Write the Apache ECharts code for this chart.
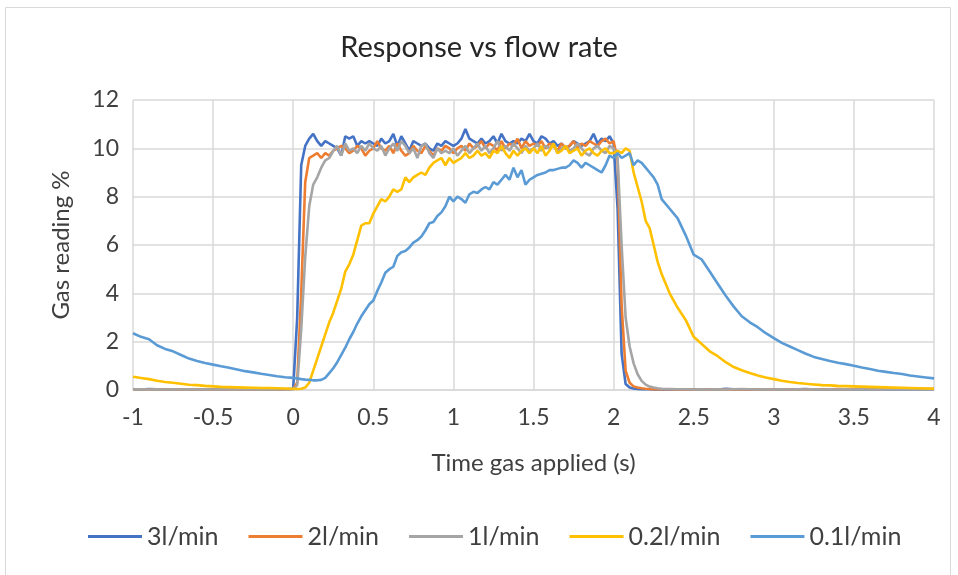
<!DOCTYPE html>
<html>
<head>
<meta charset="utf-8">
<script src="https://cdn.jsdelivr.net/npm/echarts@6/dist/echarts.min.js"></script>
<style>
  html, body { margin: 0; padding: 0; background: #ffffff; }
  #chart { width: 958px; height: 575px; }
</style>
</head>
<body>
<div id="chart"></div>
<script>
// Time (s) — denser sampling during the transitions
var timeValues = [
  -1, -0.95, -0.9, -0.85, -0.8, -0.75, -0.7,
  -0.65, -0.6, -0.55, -0.5, -0.45, -0.4, -0.35,
  -0.3, -0.25, -0.2, -0.15, -0.1, -0.05, 0,
  0.025, 0.05, 0.075, 0.1, 0.125, 0.15, 0.175, 0.2,
  0.225, 0.25, 0.275, 0.3, 0.325, 0.35, 0.375, 0.4,
  0.425, 0.45, 0.475, 0.5, 0.525, 0.55, 0.575, 0.6,
  0.625, 0.65, 0.675, 0.7, 0.725, 0.75, 0.775, 0.8,
  0.825, 0.85, 0.875, 0.9, 0.925, 0.95, 0.975, 1.0,
  1.025, 1.05, 1.075, 1.1, 1.125, 1.15, 1.175, 1.2,
  1.225, 1.25, 1.275, 1.3, 1.325, 1.35, 1.375, 1.4,
  1.425, 1.45, 1.475, 1.5, 1.525, 1.55, 1.575, 1.6,
  1.625, 1.65, 1.675, 1.7, 1.725, 1.75, 1.775, 1.8,
  1.825, 1.85, 1.875, 1.9, 1.925, 1.95, 1.975, 2.0,
  2.025, 2.05, 2.075, 2.1, 2.125, 2.15, 2.175, 2.2,
  2.225, 2.25, 2.275, 2.3,
  2.35, 2.4, 2.45, 2.5, 2.55, 2.6, 2.65, 2.7, 2.75, 2.8,
  2.85, 2.9, 2.95, 3.0, 3.05, 3.1, 3.15, 3.2, 3.25, 3.3,
  3.35, 3.4, 3.45, 3.5, 3.55, 3.6, 3.65, 3.7, 3.75, 3.8,
  3.85, 3.9, 3.95, 4.0
];

var seriesNames = ["3l/min", "2l/min", "1l/min", "0.2l/min", "0.1l/min"];

var flow3 = [
  0.03, 0.02, 0.04, 0.03, 0.02, 0.03, 0.02,
  0.03, 0.02, 0.03, 0.02, 0.03, 0.02, 0.03,
  0.02, 0.03, 0.02, 0.03, 0.02, 0.03, 0.05,
  3.0, 9.3, 10.1, 10.4, 10.6, 10.3, 10.1, 10.3,
  10.2, 10.1, 10.0, 9.7, 10.5, 10.4, 10.5, 10.1,
  10.3, 10.2, 10.3, 10.2, 10.1, 10.4, 10.2, 10.3,
  10.6, 10.1, 10.5, 10.2, 9.9, 10.3, 10.2, 10.1,
  10.2, 10.0, 9.9, 10.2, 10.1, 10.3, 10.2, 10.1,
  10.2, 10.4, 10.8, 10.4, 10.3, 10.2, 10.4, 10.2,
  10.3, 10.5, 10.2, 10.6, 10.3, 10.2, 10.3, 10.2,
  10.4, 10.3, 10.6, 10.3, 10.2, 10.5, 10.4, 10.2,
  10.3, 10.1, 10.2, 10.0, 10.1, 10.3, 10.2, 10.1,
  10.2, 10.3, 10.6, 10.2, 10.4, 10.3, 10.5, 10.2,
  7.5, 1.5, 0.25, 0.1, 0.06, 0.04, 0.03, 0.03,
  0.03, 0.02, 0.03, 0.02,
  0.02, 0.03, 0.02, 0.03, 0.02, 0.03, 0.02, 0.05, 0.03, 0.02,
  0.03, 0.02, 0.03, 0.02, 0.03, 0.02, 0.03, 0.04, 0.02, 0.03,
  0.02, 0.03, 0.02, 0.03, 0.02, 0.03, 0.02, 0.03, 0.02, 0.03,
  0.02, 0.03, 0.02, 0.03
];

var flow2 = [
  0.02, 0.03, 0.02, 0.03, 0.02, 0.03, 0.02,
  0.03, 0.02, 0.03, 0.02, 0.03, 0.02, 0.03,
  0.02, 0.03, 0.02, 0.03, 0.02, 0.03, 0.04,
  0.3, 4.0, 8.6, 9.6, 9.7, 9.8, 9.6, 9.8,
  9.7, 9.9, 10.0, 10.1, 10.0, 9.8, 9.9, 10.1,
  10.0, 9.7, 9.9, 10.0, 10.3, 10.0, 9.9, 10.1,
  9.8, 10.2, 9.9, 9.7, 9.8, 10.1, 9.9, 9.8,
  10.1, 9.9, 9.7, 10.0, 9.9, 10.1, 10.0, 9.8,
  10.0, 10.1, 9.9, 10.2, 10.0, 10.1, 10.3, 10.0,
  10.2, 10.1, 9.9, 10.3, 10.0, 10.2, 10.1, 10.4,
  10.0, 10.3, 10.1, 10.2, 10.1, 10.3, 10.0, 10.2,
  10.1, 9.9, 10.2, 10.0, 10.1, 10.3, 10.0, 10.2,
  10.1, 10.3, 10.2, 10.1, 10.3, 10.4, 10.2, 10.3,
  9.5, 3.5, 0.8, 0.3, 0.15, 0.1, 0.07, 0.05,
  0.04, 0.03, 0.03, 0.03,
  0.03, 0.02, 0.03, 0.02, 0.03, 0.02, 0.03, 0.02, 0.03, 0.02,
  0.03, 0.02, 0.03, 0.02, 0.03, 0.02, 0.03, 0.02, 0.03, 0.03,
  0.03, 0.04, 0.03, 0.04, 0.04, 0.05, 0.04, 0.05, 0.05, 0.05,
  0.05, 0.06, 0.05, 0.05
];

var flow1 = [
  0.02, 0.03, 0.02, 0.03, 0.02, 0.03, 0.02,
  0.03, 0.02, 0.03, 0.02, 0.03, 0.02, 0.03,
  0.02, 0.03, 0.02, 0.03, 0.02, 0.03, 0.03,
  0.2, 2.5, 5.5, 7.6, 8.5, 8.8, 9.2, 9.5,
  9.6, 9.9, 10.1, 9.7, 10.2, 9.9, 10.0, 9.8,
  10.1, 9.9, 10.2, 10.0, 9.9, 10.1, 9.7, 10.0,
  10.2, 9.9, 10.3, 10.1, 9.8, 10.0, 9.6, 10.1,
  10.2, 9.8, 9.6, 10.0, 9.8, 9.9, 9.8, 10.0,
  9.7, 9.9, 10.1, 9.8, 10.0, 10.2, 9.9, 10.1,
  9.8, 10.0, 10.3, 9.9, 10.1, 9.9, 10.2, 10.0,
  9.8, 10.1, 9.9, 10.0, 10.2, 9.9, 10.1, 10.0,
  10.2, 9.8, 10.0, 10.1, 9.9, 10.0, 10.2, 10.0,
  9.8, 9.7, 10.0, 10.1, 9.9, 9.8, 10.1, 10.0,
  9.6, 6.0, 3.0, 1.8, 1.1, 0.65, 0.38, 0.22,
  0.14, 0.1, 0.07, 0.05,
  0.04, 0.03, 0.03, 0.02, 0.03, 0.02, 0.03, 0.02, 0.03, 0.04,
  0.03, 0.02, 0.03, 0.02, 0.03, 0.02, 0.03, 0.02, 0.03, 0.02,
  0.03, 0.02, 0.03, 0.02, 0.03, 0.02, 0.03, 0.02, 0.03, 0.02,
  0.03, 0.02, 0.03, 0.02
];

var flow02 = [
  0.55, 0.5, 0.45, 0.38, 0.33, 0.3, 0.26,
  0.22, 0.2, 0.17, 0.15, 0.13, 0.12, 0.11,
  0.1, 0.09, 0.08, 0.08, 0.07, 0.06, 0.05,
  0.04, 0.05, 0.1, 0.3, 0.8, 1.3, 1.8, 2.3,
  2.8, 3.2, 3.7, 4.2, 4.9, 5.2, 5.6, 6.2,
  6.8, 6.9, 6.9, 7.3, 7.6, 7.9, 7.8, 8.0,
  8.3, 8.2, 8.3, 8.8, 8.6, 8.8, 8.9, 9.0,
  8.9, 9.2, 9.4, 9.5, 9.6, 9.3, 9.6, 9.4,
  9.5, 9.6, 9.8, 9.6, 9.7, 9.9, 9.7, 9.8,
  9.6, 9.9, 9.8, 10.1, 9.8, 9.6, 9.9, 9.7,
  9.9, 10.0, 9.8, 10.0, 9.8, 10.1, 9.7, 9.9,
  10.2, 9.8, 9.9, 10.1, 9.8, 9.9, 10.0, 9.7,
  9.9, 10.0, 9.8, 9.7, 9.9, 10.0, 9.8, 9.8,
  9.9, 9.8, 10.0, 9.9, 9.0, 8.4, 7.8, 7.0,
  6.7, 6.0, 5.3, 4.8,
  4.0, 3.4, 2.9, 2.2, 1.9, 1.6, 1.4, 1.15, 0.95, 0.82,
  0.7, 0.6, 0.52, 0.45, 0.38, 0.33, 0.29, 0.26, 0.23, 0.2,
  0.19, 0.17, 0.16, 0.15, 0.14, 0.13, 0.12, 0.11, 0.1, 0.09,
  0.08, 0.07, 0.06, 0.05
];

var flow01 = [
  2.35, 2.2, 2.1, 1.85, 1.7, 1.6, 1.45,
  1.3, 1.2, 1.12, 1.05, 0.98, 0.92, 0.85,
  0.78, 0.73, 0.67, 0.62, 0.57, 0.53, 0.5,
  0.48, 0.45, 0.43, 0.42, 0.4, 0.4, 0.42, 0.5,
  0.7, 0.9, 1.15, 1.45, 1.75, 2.1, 2.4, 2.75,
  3.05, 3.3, 3.55, 3.7, 4.1, 4.45, 4.85, 5.0,
  5.1, 5.55, 5.7, 5.75, 5.9, 6.1, 6.2, 6.35,
  6.6, 6.9, 6.95, 7.2, 7.35, 7.6, 8.0, 7.8,
  8.0, 7.9, 7.75, 8.1, 8.2, 8.15, 8.3, 8.4,
  8.3, 8.6, 8.5, 8.7, 8.9, 8.7, 9.2, 8.8,
  9.1, 8.5, 8.7, 8.8, 8.9, 8.95, 9.0, 9.1,
  9.1, 9.15, 9.2, 9.2, 9.3, 9.5, 9.4, 9.2,
  9.4, 9.3, 9.2, 9.1, 9.0, 9.3, 9.7, 9.6,
  9.8, 9.6, 9.7, 9.8, 9.3, 9.5, 9.4, 9.2,
  9.0, 8.8, 8.5, 7.9,
  7.5, 7.1, 6.4, 5.6, 5.4, 4.9, 4.4, 3.9, 3.45, 3.05,
  2.8, 2.6, 2.35, 2.15, 1.95, 1.8, 1.65, 1.5, 1.37, 1.28,
  1.2, 1.13, 1.07, 1.0, 0.93, 0.87, 0.8, 0.75, 0.7, 0.66,
  0.6, 0.56, 0.52, 0.48
];

var seriesColors = ["#4472C4", "#ED7D31", "#A5A5A5", "#FFC000", "#5B9BD5"];
var seriesValues = [flow3, flow2, flow1, flow02, flow01];

function pairs(values) {
  return timeValues.map(function (t, i) { return [t, values[i]]; });
}

var FONT = "Lato, 'Liberation Sans', sans-serif";
var TEXT = "#404040";

var chart = echarts.init(document.getElementById("chart"), null, { renderer: "canvas" });
chart.setOption({
  backgroundColor: "#ffffff",
  animation: false,
  color: seriesColors,
  graphic: [{
    type: "rect",
    shape: { x: 5.5, y: 7.5, width: 945, height: 600 },
    style: { fill: "none", stroke: "#D9D9D9", lineWidth: 1 },
    silent: true,
    z: -10
  }],
  title: {
    text: "Response vs flow rate",
    left: "center",
    top: 28,
    textStyle: { fontFamily: FONT, fontSize: 29, fontWeight: "normal", color: "#262626" }
  },
  legend: {
    data: seriesNames,
    left: 88,
    top: 524,
    padding: 0,
    icon: "rect",
    itemWidth: 54,
    itemHeight: 3,
    itemGap: 30,
    textStyle: { fontFamily: FONT, fontSize: 25, color: TEXT }
  },
  grid: { left: 133, right: 24, top: 100, bottom: 185, containLabel: false },
  xAxis: {
    type: "value",
    min: -1,
    max: 4,
    interval: 0.5,
    name: "Time gas applied (s)",
    nameLocation: "middle",
    nameGap: 61,
    nameTextStyle: { fontFamily: FONT, fontSize: 24, color: TEXT },
    axisLine: { show: true, lineStyle: { color: "#D9D9D9", width: 1.5 } },
    axisTick: { show: false },
    axisLabel: { fontFamily: FONT, fontSize: 23, color: TEXT, margin: 16 },
    splitLine: { show: true, lineStyle: { color: "#D9D9D9", width: 1.5 } }
  },
  yAxis: {
    type: "value",
    min: 0,
    max: 12,
    interval: 2,
    name: "Gas reading %",
    nameLocation: "middle",
    nameGap: 60,
    nameTextStyle: { fontFamily: FONT, fontSize: 24, color: TEXT },
    axisLine: { show: false },
    axisTick: { show: false },
    axisLabel: { fontFamily: FONT, fontSize: 23, color: TEXT, margin: 14 },
    splitLine: { show: true, lineStyle: { color: "#D9D9D9", width: 1.5 } }
  },
  series: seriesNames.map(function (name, i) {
    return {
      name: name,
      type: "line",
      data: pairs(seriesValues[i]),
      showSymbol: false,
      symbol: "none",
      lineStyle: { width: 2.6, color: seriesColors[i] },
      itemStyle: { color: seriesColors[i] }
    };
  })
});
</script>
</body>
</html>
